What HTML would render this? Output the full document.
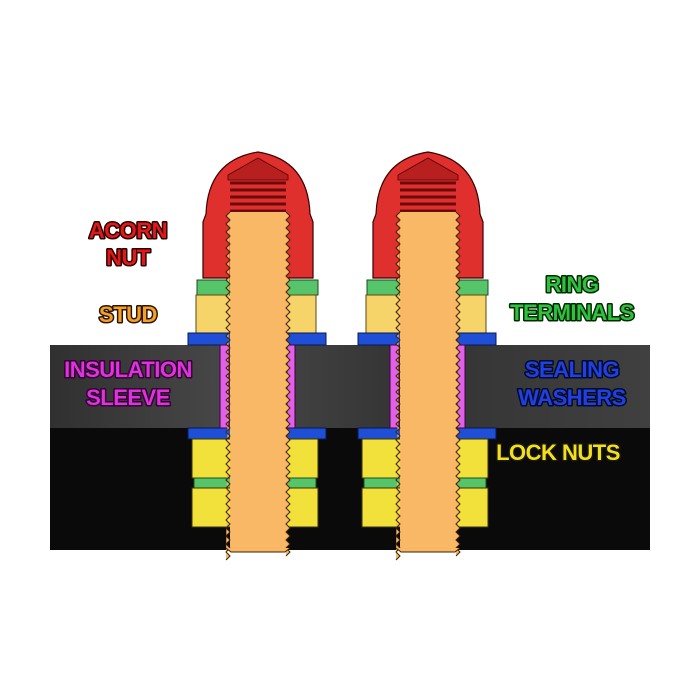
<!DOCTYPE html>
<html><head><meta charset="utf-8"><style>
html,body{margin:0;padding:0;background:#fff;}
svg{display:block;}
text{font-family:"Liberation Sans",sans-serif;font-weight:bold;font-size:22px;text-anchor:middle;stroke-width:3px;paint-order:stroke;stroke-linejoin:round;letter-spacing:-0.5px;}
</style></head><body>
<svg width="700" height="700" viewBox="0 0 700 700" xmlns="http://www.w3.org/2000/svg">
<defs>
<linearGradient id="plate" x1="0" y1="0" x2="1" y2="0">
<stop offset="0" stop-color="#303030"/><stop offset="0.3" stop-color="#484848"/><stop offset="0.6" stop-color="#333"/><stop offset="1" stop-color="#404040"/>
</linearGradient>
<g id="bolt">
<path d="M203,278 L203,222 L206,214 Q208,160 258,152 Q308,160 310,214 L313,222 L313,278 Z" fill="#e0302e" stroke="#3a0000" stroke-width="1.2"/>
<path d="M228,175 L258,158 L288,175 L288,180 L228,180 Z" fill="#b82020" stroke="#500" stroke-width="0.8"/>
<path d="M230,183 H286 M230,190 H286 M230,197 H286 M230,204 H286 M230,211 H286" stroke="#6a0a0a" stroke-width="3"/>
<rect x="197" y="280" width="121" height="15" fill="#56c56a" stroke="#1f4a22" stroke-width="1"/>
<rect x="196" y="295" width="120" height="38" fill="#f6d46a" stroke="#5a4a10" stroke-width="1"/>
<rect x="188" y="333" width="138" height="12" fill="#1f4fd6" stroke="#071a50" stroke-width="1"/>
<rect x="188" y="428" width="138" height="11" fill="#1f4fd6" stroke="#071a50" stroke-width="1"/>
<rect x="220" y="345" width="9" height="83" fill="#e060e8" stroke="#400040" stroke-width="1"/>
<rect x="287" y="345" width="8" height="83" fill="#e060e8" stroke="#400040" stroke-width="1"/>
<rect x="192" y="439" width="126" height="39" fill="#f2e13a" stroke="#3a3400" stroke-width="1"/>
<rect x="194" y="478" width="122" height="10" fill="#56c56a" stroke="#1f4a22" stroke-width="1"/>
<rect x="192" y="488" width="126" height="39" fill="#f2e13a" stroke="#3a3400" stroke-width="1"/>
<rect x="230" y="212" width="56" height="336" fill="#f8b865"/>
<path d="M230,212 l-4,4 l4,4 l-4,4 l4,4 l-4,4 l4,4 l-4,4 l4,4 l-4,4 l4,4 l-4,4 l4,4 l-4,4 l4,4 l-4,4 l4,4 l-4,4 l4,4 l-4,4 l4,4 l-4,4 l4,4 l-4,4 l4,4 l-4,4 l4,4 l-4,4 l4,4 l-4,4 l4,4 l-4,4 l4,4 l-4,4 l4,4 l-4,4 l4,4 l-4,4 l4,4 l-4,4 l4,4 l-4,4 l4,4 l-4,4 l4,4 l-4,4 l4,4 l-4,4 l4,4 l-4,4 l4,4 l-4,4 l4,4 l-4,4 l4,4 l-4,4 l4,4 l-4,4 l4,4 l-4,4 l4,4 l-4,4 l4,4 l-4,4 l4,4 l-4,4 l4,4 l-4,4 l4,4 l-4,4 l4,4 l-4,4 l4,4 l-4,4 l4,4 l-4,4 l4,4 l-4,4 l4,4 l-4,4 l4,4 l-4,4 l4,4 l-4,4 l4,4 l-4,4 l4,4 l-4,4" fill="#f8b865" stroke="#3a2000" stroke-width="1"/>
<path d="M286,212 l4,4 l-4,4 l4,4 l-4,4 l4,4 l-4,4 l4,4 l-4,4 l4,4 l-4,4 l4,4 l-4,4 l4,4 l-4,4 l4,4 l-4,4 l4,4 l-4,4 l4,4 l-4,4 l4,4 l-4,4 l4,4 l-4,4 l4,4 l-4,4 l4,4 l-4,4 l4,4 l-4,4 l4,4 l-4,4 l4,4 l-4,4 l4,4 l-4,4 l4,4 l-4,4 l4,4 l-4,4 l4,4 l-4,4 l4,4 l-4,4 l4,4 l-4,4 l4,4 l-4,4 l4,4 l-4,4 l4,4 l-4,4 l4,4 l-4,4 l4,4 l-4,4 l4,4 l-4,4 l4,4 l-4,4 l4,4 l-4,4 l4,4 l-4,4 l4,4 l-4,4 l4,4 l-4,4 l4,4 l-4,4 l4,4 l-4,4 l4,4 l-4,4 l4,4 l-4,4 l4,4 l-4,4 l4,4 l-4,4 l4,4 l-4,4 l4,4 l-4,4 l4,4 l-4,4" fill="#f8b865" stroke="#3a2000" stroke-width="1"/>
<path d="M226,548 L231,552 H285 L290,548" fill="#f8b865" stroke="#3a2000" stroke-width="1"/>
</g>
</defs>
<rect x="0" y="0" width="700" height="700" fill="#fff"/>
<rect x="50" y="345" width="600" height="205" fill="#0a0a0a"/>
<rect x="50" y="345" width="600" height="83" fill="url(#plate)"/>
<use href="#bolt"/>
<use href="#bolt" transform="translate(170,0)"/>
<text x="128" y="238" fill="#e01818" stroke="#2a0000">ACORN</text>
<text x="128" y="265" fill="#e01818" stroke="#2a0000">NUT</text>
<text x="128" y="322" fill="#f2a02a" stroke="#2a1400">STUD</text>
<text x="128" y="377" fill="#e030e0" stroke="#300030">INSULATION</text>
<text x="128" y="405" fill="#e030e0" stroke="#300030">SLEEVE</text>
<text x="572" y="292" fill="#30c040" stroke="#002a00">RING</text>
<text x="572" y="320" fill="#30c040" stroke="#002a00">TERMINALS</text>
<text x="572" y="377" fill="#2040e0" stroke="#000a30">SEALING</text>
<text x="572" y="405" fill="#2040e0" stroke="#000a30">WASHERS</text>
<text x="558" y="460" fill="#f2e020" stroke="#1a1800">LOCK NUTS</text>
</svg>
</body></html>
